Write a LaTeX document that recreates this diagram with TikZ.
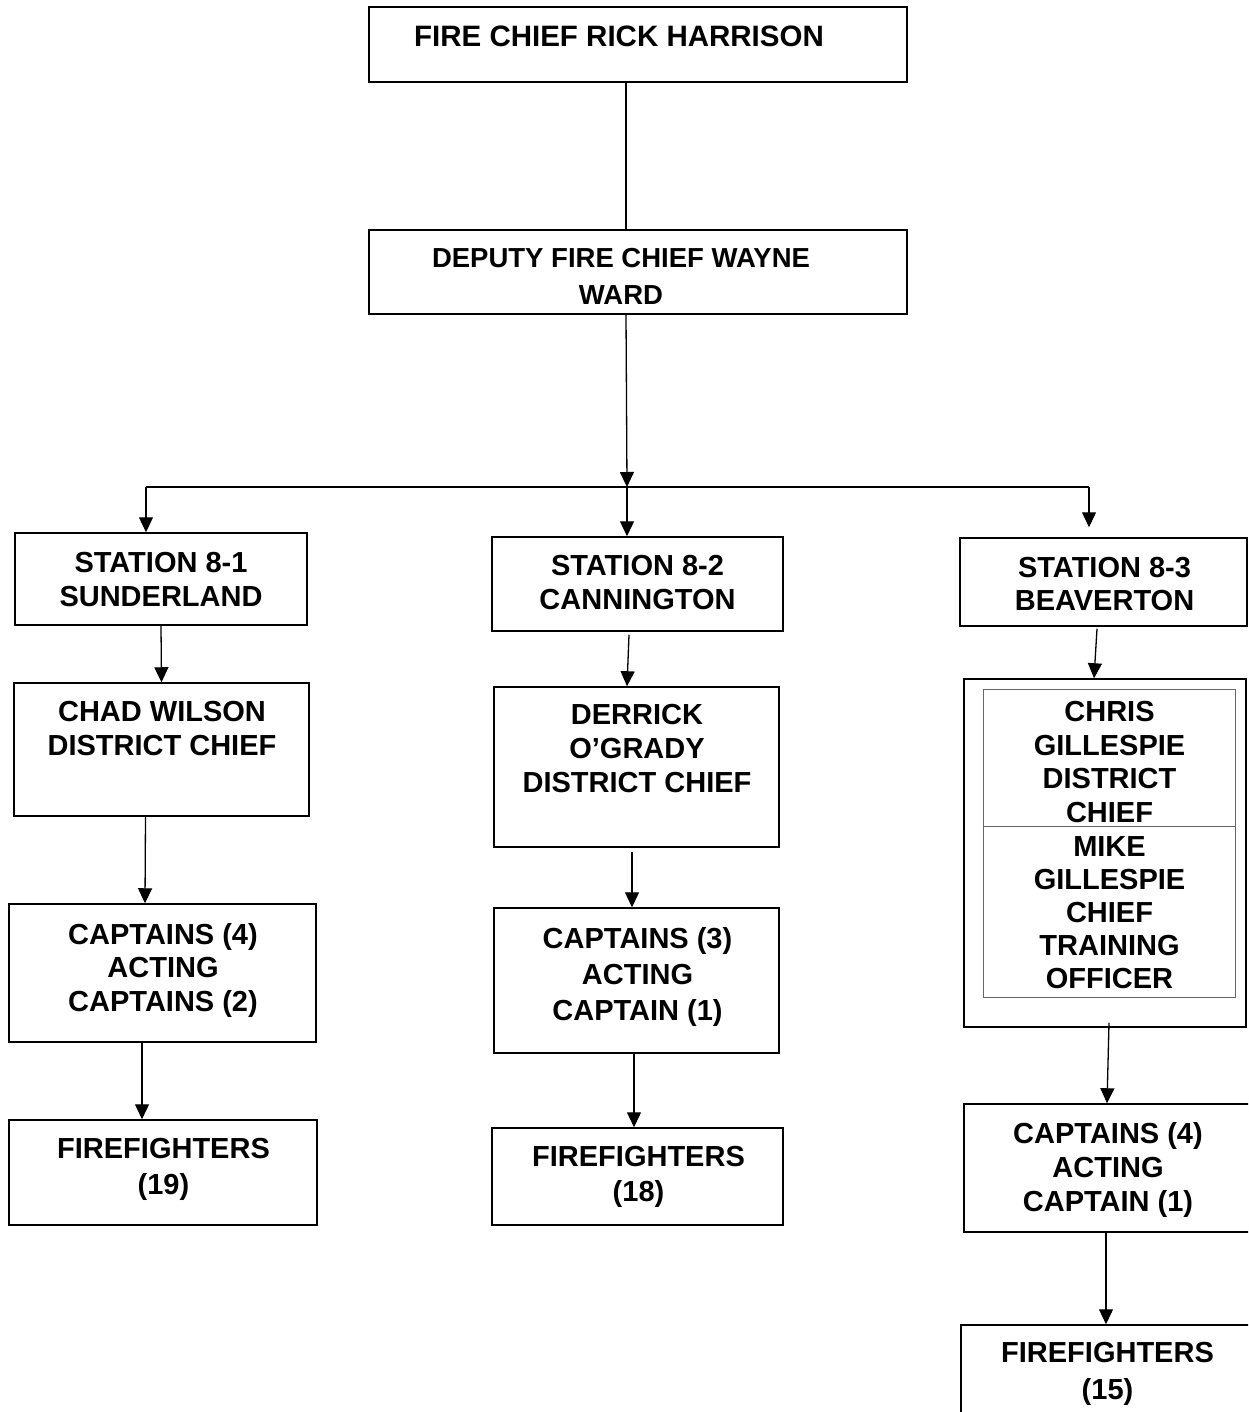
\documentclass[tikz,border=0pt]{standalone}
\usepackage{fontspec}
\setmainfont{Liberation Sans}
\usetikzlibrary{arrows.meta,fit,calc}
\begin{document}
\begin{tikzpicture}[x=1pt,y=-1pt,
  box/.style={draw, line width=1.5pt, inner sep=0pt, rectangle},
  ibox/.style={draw=black!60, line width=1pt, inner sep=0pt, rectangle},
  txt/.style={font=\bfseries\fontsize{29}{34}\selectfont, align=center, inner sep=0pt, anchor=north},
  conn/.style={line width=1.3pt},
  arr/.style={conn, -{Triangle[length=15pt,width=14pt]}}]
\path[use as bounding box, clip] (0,0) rectangle (1248,1412);
\fill[white] (0,0) rectangle (1248,1412);

% boxes
\node[box, fit={(369,7) (907,82)}] (top) {};
\node[box, fit={(369,230) (907,314)}] (dep) {};
\node[box, fit={(15,533) (307,625)}] (s1) {};
\node[box, fit={(14,683) (309,816)}] (chad) {};
\node[box, fit={(9,904) (316,1042)}] (cap1) {};
\node[box, fit={(9,1120) (317,1225)}] (ff1) {};
\node[box, fit={(492,537) (783,631)}] (s2) {};
\node[box, fit={(494,687) (779,847)}] (der) {};
\node[box, fit={(494,908) (779,1053)}] (cap2) {};
\node[box, fit={(492,1128) (783,1225)}] (ff2) {};
\node[box, fit={(960,538) (1247,626)}] (s3) {};
\node[box, fit={(964,679) (1246,1027)}] (outer) {};
\node[ibox, fit={(983,689) (1235,997)}] (inner) {};
\node[box, fit={(964,1104) (1252,1232)}] (cap3) {};
\node[box, fit={(961,1325) (1252,1430)}] (ff3) {};
\coordinate (divL) at (983,826);
\coordinate (divR) at (1235,826);
\draw[black!60, line width=1pt] (inner.west |- divL) -- (inner.east |- divR);

% texts
\node[txt, font=\bfseries\fontsize{29.5}{35}\selectfont] (ttop) at (619,25.5) {FIRE CHIEF RICK HARRISON};
\node[txt, font=\bfseries\fontsize{27.5}{37}\selectfont] (tdep) at (621,248) {DEPUTY FIRE CHIEF WAYNE\\WARD};
\node[txt] (ts1) at (161,552) {STATION 8-1\\SUNDERLAND};
\node[txt] (tchad) at (162,701) {CHAD WILSON\\DISTRICT CHIEF};
\node[txt, font=\bfseries\fontsize{29}{33.5}\selectfont] (tcap1) at (163,923) {CAPTAINS (4)\\ACTING\\CAPTAINS (2)};
\node[txt, font=\bfseries\fontsize{29}{36}\selectfont] (tff1) at (163.5,1138) {FIREFIGHTERS\\(19)};
\node[txt] (ts2) at (637.5,555) {STATION 8-2\\CANNINGTON};
\node[txt] (tder) at (637,704) {DERRICK\\O’GRADY\\DISTRICT CHIEF};
\node[txt, font=\bfseries\fontsize{29}{36}\selectfont] (tcap2) at (637.5,927) {CAPTAINS (3)\\ACTING\\CAPTAIN (1)};
\node[txt, font=\bfseries\fontsize{29}{35}\selectfont] (tff2) at (638.5,1146) {FIREFIGHTERS\\(18)};
\node[txt, font=\bfseries\fontsize{29}{33}\selectfont] (ts3) at (1104.5,557) {STATION 8-3\\BEAVERTON};
\node[txt, font=\bfseries\fontsize{29}{33.5}\selectfont] (tin1) at (1109.5,701.5) {CHRIS\\GILLESPIE\\DISTRICT\\CHIEF};
\node[txt, font=\bfseries\fontsize{29}{33}\selectfont] (tin2) at (1109.5,836.5) {MIKE\\GILLESPIE\\CHIEF\\TRAINING\\OFFICER};
\node[txt] (tcap3) at (1108,1122) {CAPTAINS (4)\\ACTING\\CAPTAIN (1)};
\node[txt, font=\bfseries\fontsize{29}{37}\selectfont] (tff3) at (1107.5,1342) {FIREFIGHTERS\\(15)};

% bus
\coordinate (busC) at (627,487);
\coordinate (busL) at (146,487);
\coordinate (busR) at (1089,487);

% connectors
\draw[conn] ([xshift=-12pt]top.south) -- ([xshift=-12pt]dep.north);
\draw[arr] ([xshift=-12pt]dep.south) -- (busC);
\draw[conn] (busL) -- (busR);
\draw[arr] (busL) -- ([xshift=-15pt]s1.north);
\draw[arr] (busC) -- ([xshift=-10.5pt]s2.north);
\draw[arr] (busR) -- ([xshift=-14.5pt,yshift=10pt]s3.north);
\draw[arr] (s1.south) -- (chad.north);
\draw[arr] ([xshift=-16pt]chad.south) -- ([xshift=-17.5pt]cap1.north);
\draw[arr] ([xshift=-20.5pt]cap1.south) -- ([xshift=-21pt]ff1.north);
\draw[arr] ([xshift=-8.5pt,yshift=-3pt]s2.south) -- ([xshift=-9.5pt]der.north);
\draw[arr] ([xshift=-4.5pt,yshift=-4pt]der.south) -- ([xshift=-4.5pt]cap2.north);
\draw[arr] ([xshift=-2.5pt]cap2.south) -- ([xshift=-3.5pt]ff2.north);
\draw[arr] ([xshift=-6.5pt,yshift=-2pt]s3.south) -- ([xshift=-11pt]outer.north);
\draw[arr] ([xshift=4pt,yshift=5pt]outer.south) -- ([xshift=-1pt]cap3.north);
\draw[arr] ([xshift=-2pt]cap3.south) -- ([xshift=-0.5pt]ff3.north);
\end{tikzpicture}
\end{document}
